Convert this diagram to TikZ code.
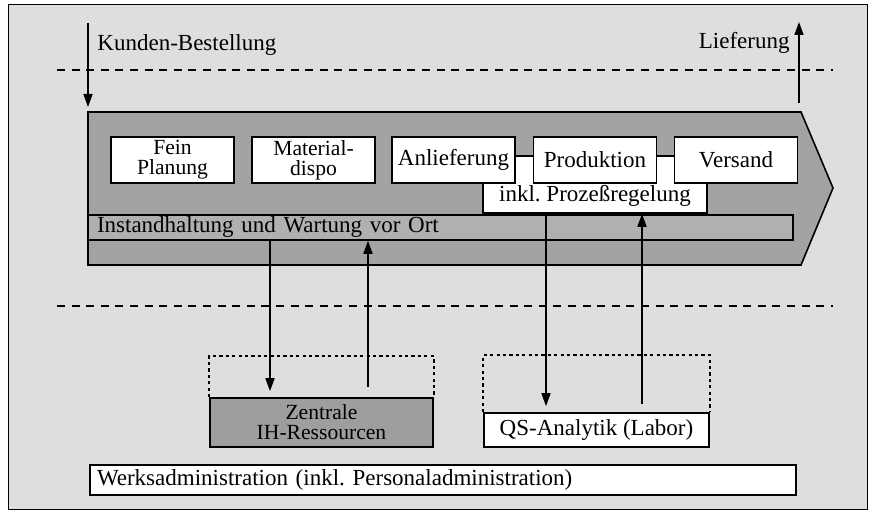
\documentclass[tikz,border=0pt]{standalone}
\usepackage{fontspec}
\setmainfont{Liberation Serif}
\usetikzlibrary{arrows.meta}

\definecolor{paper}{gray}{0.87}
\definecolor{flowgray}{gray}{0.64}
\definecolor{bargray}{gray}{0.69}
\definecolor{resgray}{gray}{0.62}

\tikzset{
    txt/.style={font=\fontsize{11.5}{10}\selectfont},
    twoline/.style={font=\fontsize{10.8}{10}\selectfont},
    stepbox/.style={txt,draw,fill=white,align=center,minimum width=61.5pt,minimum height=23pt,inner sep=0.5pt},
    procbox/.style={draw,fill=white,minimum width=112pt,minimum height=28.5pt},
    barbox/.style={txt,draw,align=left,inner ysep=0.5pt},
    resbox/.style={txt,draw,align=center,inner sep=0.5pt},
    sepline/.style={dash pattern=on 4pt off 3.3pt},
    dotframe/.style={dash pattern=on 1.6pt off 1.6pt}
}

\begin{document}
\begin{tikzpicture}[x=0.5pt,y=-0.5pt,line width=0.8pt,>={Triangle[length=6.5pt,width=4.5pt]}]
            \useasboundingbox (0,0) rectangle (873,512);
            \draw[fill=paper,line width=0.5pt] (8,5) rectangle (867,510);

            % Trennlinien
            \draw[sepline] (57,70) -- (833,70);
            \draw[sepline] (57,306) -- (833,306);

            % Ablauf
            \draw[fill=flowgray] (88,112) coordinate (flowNW) -- (801,112) -- (833,188) -- (801,265) -- (88,265) -- cycle;
            \node[procbox] (PR) at (595,184.5) {};
            \node[txt,anchor=south] (PRt) at (PR.south) {inkl.\ Prozeßregelung};
            \node[stepbox,twoline] (FP) at (172.5,160) {Fein\\Planung};
            \node[stepbox,twoline] (MD) at (313.5,160) {Material-\\dispo};
            \node[stepbox] (AL) at (453.5,160) {Anlieferung};
            \node[stepbox] (PD) at (595,160) {Produktion};
            \node[stepbox] (VS) at (736,160) {Versand};
            \node[barbox,fill=bargray,text width=343.5pt,inner xsep=4.5pt,minimum height=12.5pt] (IW) at (440.5,227.5) {Instandhaltung und Wartung vor Ort};

            % Ressourcen
            \node[resbox,twoline,fill=resgray,minimum width=111.5pt,minimum height=24.5pt] (ZH) at (321.5,422.5) {Zentrale\\IH-Ressourcen};
            \node[resbox,fill=white,minimum width=112.5pt,minimum height=17pt] (QS) at (596.5,430) {QS-Analytik (Labor)};
            \node[barbox,fill=white,text width=346pt,inner xsep=3.5pt,minimum height=15pt] (WA) at (443,480) {Werksadministration (inkl.\ Personaladministration)};
            \draw[dotframe] (ZH.north west) -- ++(0,-41) -| (ZH.north east);
            \draw[dotframe] (QS.north west) -- ++(0,-57) -| (QS.north east);

            % Kunde
            \coordinate (kIn) at (88,23);
            \coordinate (lOut) at (799,22);
            \node[txt,anchor=west] (KB) at (90,45) {Kunden-Bestellung};
            \node[txt,anchor=east] (LF) at (797,43) {Lieferung};
            \path [->] (kIn) edge[shorten >=2.5pt] (kIn |- flowNW);
            \path [->] (lOut |- flowNW) edge[shorten <=4.5pt] (lOut);

            % Auftraege und Rueckmeldungen
            \coordinate (zDown) at (270,0);
            \coordinate (zUp) at (368,0);
            \coordinate (qDown) at (546,0);
            \coordinate (qUp) at (642,0);
            \path [->] (IW.south -| zDown) edge[shorten >=3pt] (ZH.north -| zDown);
            \path [->] (ZH.north -| zUp) edge[shorten <=5pt] (IW.south -| zUp);
            \path [->] (PR.south -| qDown) edge[shorten >=3pt] (QS.north -| qDown);
            \path [->] (QS.north -| qUp) edge[shorten <=4pt] (PR.south -| qUp);
        \end{tikzpicture}
\end{document}
